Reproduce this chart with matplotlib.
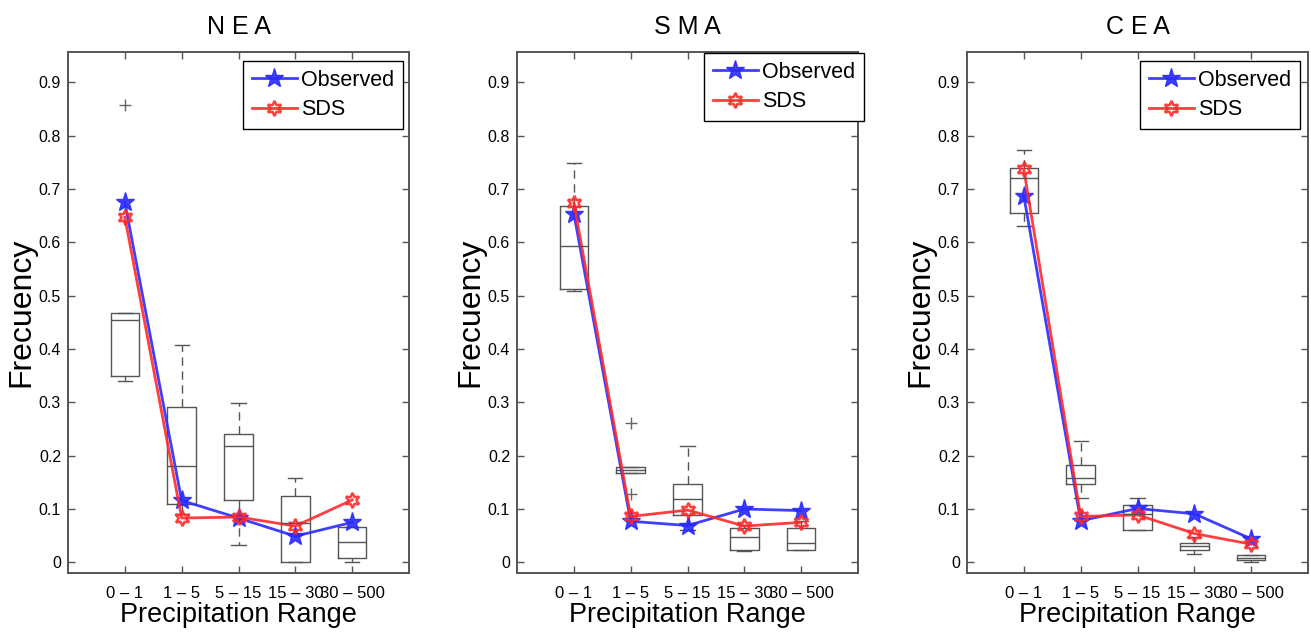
import numpy as np
import matplotlib
matplotlib.use("Agg")
import matplotlib.pyplot as plt

# --- data ---
ranges = ['0 – 1', '1 – 5', '5 – 15', '15 – 30', '30 – 500']
regions = ['N E A', 'S M A', 'C E A']

nea_observed = [0.675, 0.116, 0.083, 0.049, 0.075]
nea_sds = [0.647, 0.083, 0.085, 0.068, 0.117]
nea_q1 = [0.350, 0.109, 0.117, 0.000, 0.009]
nea_med = [0.455, 0.180, 0.218, 0.073, 0.039]
nea_q3 = [0.467, 0.292, 0.241, 0.125, 0.067]
nea_lo = [0.340, 0.090, 0.033, 0.000, 0.000]
nea_hi = [0.467, 0.408, 0.299, 0.159, 0.067]
nea_out = [[0.858], [], [], [], []]

sma_observed = [0.654, 0.077, 0.069, 0.100, 0.097]
sma_sds = [0.674, 0.086, 0.098, 0.068, 0.075]
sma_q1 = [0.512, 0.167, 0.089, 0.023, 0.023]
sma_med = [0.593, 0.173, 0.119, 0.047, 0.037]
sma_q3 = [0.668, 0.178, 0.146, 0.064, 0.064]
sma_lo = [0.508, 0.167, 0.061, 0.021, 0.023]
sma_hi = [0.748, 0.178, 0.219, 0.070, 0.078]
sma_out = [[], [0.262, 0.129], [], [], []]

cea_observed = [0.687, 0.078, 0.101, 0.091, 0.044]
cea_sds = [0.737, 0.086, 0.089, 0.054, 0.034]
cea_q1 = [0.656, 0.147, 0.061, 0.024, 0.004]
cea_med = [0.720, 0.159, 0.090, 0.031, 0.009]
cea_q3 = [0.740, 0.183, 0.108, 0.036, 0.014]
cea_lo = [0.631, 0.120, 0.061, 0.016, 0.000]
cea_hi = [0.773, 0.227, 0.120, 0.048, 0.014]
cea_out = [[], [], [], [], []]

panels = [
    (nea_observed, nea_sds, nea_q1, nea_med, nea_q3, nea_lo, nea_hi, nea_out),
    (sma_observed, sma_sds, sma_q1, sma_med, sma_q3, sma_lo, sma_hi, sma_out),
    (cea_observed, cea_sds, cea_q1, cea_med, cea_q3, cea_lo, cea_hi, cea_out),
]

plt.rcParams['font.family'] = ['Liberation Sans', 'DejaVu Sans']

fig = plt.figure(figsize=(13.11, 6.34), dpi=100)
axes_lefts = [68, 517, 967]
legend_anchor = [(403, 61), (864, 53), (1300, 61)]
W, H = 1311.0, 634.0

box_col = '#555555'
pos = np.arange(1, len(ranges) + 1)

for i, (obs, sds, q1, med, q3, lo, hi, out) in enumerate(panels):
    ax = fig.add_axes([axes_lefts[i] / W, 1 - 573 / H, 341 / W, (573 - 52) / H])

    stats = [dict(q1=q1[k], med=med[k], q3=q3[k], whislo=lo[k], whishi=hi[k],
                  fliers=out[k]) for k in range(len(ranges))]
    ax.bxp(stats, positions=pos, widths=0.5, capwidths=0.25, showfliers=True,
           boxprops=dict(color=box_col, linewidth=1.0),
           whiskerprops=dict(color=box_col, linewidth=1.0, linestyle=(0, (6, 4))),
           capprops=dict(color=box_col, linewidth=1.0),
           medianprops=dict(color=box_col, linewidth=1.0),
           flierprops=dict(marker='+', markeredgecolor='#666666', markersize=8,
                           markeredgewidth=1.0))

    ax.plot(pos, obs, color='#2a2aff', lw=2, marker='*', ms=14,
            mfc='#2a2aff', mec='#2a2aff', label='Observed', alpha=0.9)
    ax.plot(pos, sds, color='#ff2a2a', lw=2, marker=(6, 1, 0), ms=11,
            mfc='none', mec='#ff2a2a', mew=1.8, label='SDS', alpha=0.9)

    ax.set_xlim(0, 6)
    ax.set_ylim(-0.02, 0.957)
    ax.set_xticks(pos)
    ax.set_xticklabels(ranges, fontsize=12)
    ax.set_yticks(np.arange(0, 1.0, 0.1))
    ax.set_yticklabels(['0'] + ['%.1f' % v for v in np.arange(0.1, 1.0, 0.1)],
                       fontsize=11.5)
    ax.tick_params(direction='in', top=True, right=True, length=5,
                   width=1, color='#555555')
    ax.tick_params(axis='x', pad=9)
    ax.tick_params(axis='y', pad=5)
    for s in ax.spines.values():
        s.set_color('#555555')
        s.set_linewidth(1.4)

    ax.set_title(regions[i], fontsize=18, pad=13)
    ax.set_xlabel('Precipitation Range', fontsize=19.5, labelpad=1)
    ax.set_ylabel('Frecuency', fontsize=23, labelpad=2)

    lx, ly = legend_anchor[i]
    ax.legend(loc='upper right', bbox_to_anchor=(lx / W, 1 - ly / H),
              bbox_transform=fig.transFigure, borderaxespad=0,
              prop=dict(size=15.5), fancybox=False,
              edgecolor='black', framealpha=1, handlelength=2.1,
              handletextpad=0.2, labelspacing=0.4, borderpad=0.4)
    ax.get_legend().get_frame().set_linewidth(1.0)

fig.savefig('out.png', dpi=100)
